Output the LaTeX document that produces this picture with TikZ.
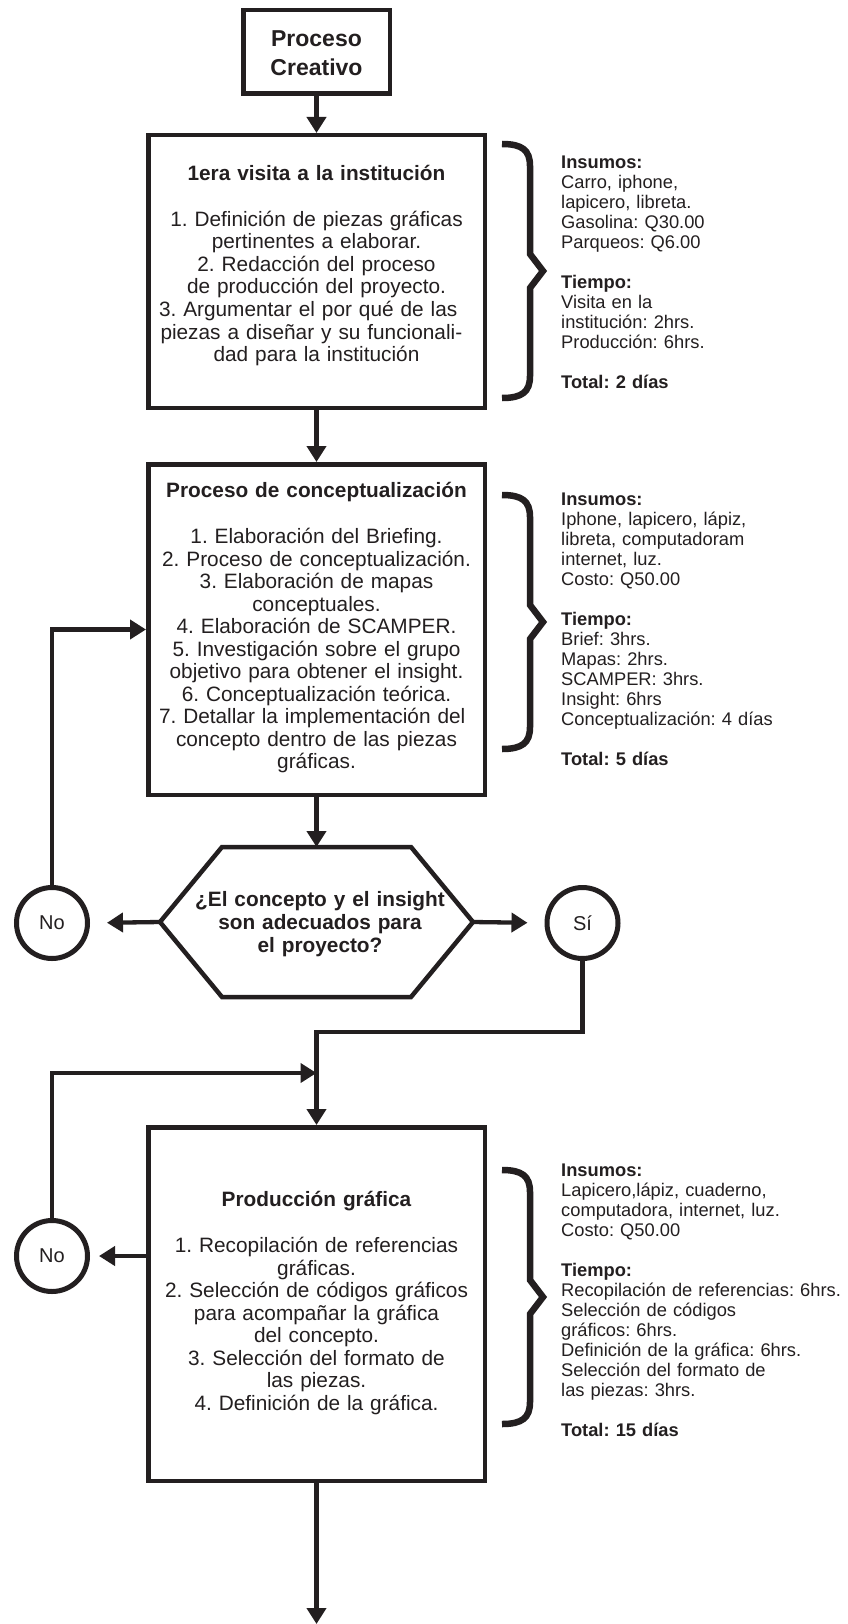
\documentclass[tikz,border=0pt]{standalone}
\usepackage{fontspec}
\setmainfont{Liberation Sans}
\usetikzlibrary{arrows.meta,calc}
\definecolor{ink}{HTML}{231F20}
\frenchspacing
\newcommand\boxfont{\frenchspacing\fontsize{20.8pt}{22.5pt}\selectfont}
\newcommand\sidefont{\frenchspacing\fontsize{18.3pt}{20pt}\selectfont}
\newcommand\topfont{\fontsize{23pt}{29pt}\selectfont\bfseries}
\newcommand\hexfont{\fontsize{20.8pt}{23pt}\selectfont\bfseries}
\newcommand\circfont{\fontsize{20pt}{22pt}\selectfont}
\begin{document}
\begin{tikzpicture}[x=1pt,y=-1pt,
  box/.style={draw=ink,line width=4.5pt,inner sep=0pt},
  circ/.style={circle,draw=ink,line width=5pt,minimum size=71pt,inner sep=0pt,font=\circfont,text=ink},
  wire/.style={draw=ink,line width=4.3pt},
  conn/.style={wire,-{Triangle[length=16pt,width=19pt]}},
  boxtext/.style={text width=334pt,align=center,inner sep=0pt,anchor=base,font=\boxfont,text=ink},
  sidetext/.style={text width=287pt,align=left,inner sep=0pt,anchor=base west,font=\sidefont,text=ink},
  bracepic/.pic={\draw[ink,line width=6.5pt] (0,0) .. controls (20,0) and (28,6) .. (28,22) -- (28,110) -- (41,127) -- (28,144) -- (28,232) .. controls (28,248) and (20,254) .. (0,254);}
]
\fill[white] (0,0) rectangle (848,1624);
\useasboundingbox (0,0) rectangle (848,1624);

% boxes
\node[box,minimum width=146.5pt,minimum height=83.5pt] (top) at (316.5,52) {};
\node[box,minimum width=336.5pt,minimum height=272.5pt] (b1) at (316.5,271.5) {};
\node[box,minimum width=336.5pt,minimum height=330.5pt] (b2) at (316.5,629.5) {};
\node[box,minimum width=336.5pt,minimum height=353.5pt] (b3) at (316.5,1304) {};

% texts in boxes
\node[boxtext,font=\topfont,text width=146pt] (toptxt) at (316.5,47) {Proceso\\Creativo};
\node[boxtext] (t1) at (316.5,180.5) {\textbf{1era visita a la institución}\\[23.5pt]
1. Definición de piezas gráficas\\
pertinentes a elaborar.\\
2. Redacción del proceso\\
de producción del proyecto.\\
\makebox[315pt][s]{3. Argumentar el por qué de las}\\
\makebox[312pt][s]{piezas a diseñar y su funcionali-}\\
dad para la institución};
\node[boxtext] (t2) at (316.5,497.5) {\textbf{Proceso de conceptualización}\\[23.5pt]
1. Elaboración del Briefing.\\
2. Proceso de conceptualización.\\
3. Elaboración de mapas\\
conceptuales.\\
4. Elaboración de SCAMPER.\\
5. Investigación sobre el grupo\\
objetivo para obtener el insight.\\
6. Conceptualización teórica.\\
\makebox[315pt][s]{7. Detallar la implementación del}\\
concepto dentro de las piezas\\
gráficas.};
\node[boxtext] (t3) at (316.5,1206.5) {\textbf{Producción gráfica}\\[23.5pt]
1. Recopilación de referencias\\
gráficas.\\
2. Selección de códigos gráficos\\
para acompañar la gráfica\\
del concepto.\\
3. Selección del formato de\\
las piezas.\\
4. Definición de la gráfica.};

% hexagon
\node[minimum width=313pt,minimum height=150pt,inner sep=0pt,outer sep=0pt] (hex) at (316.5,922) {};
\draw[ink,line width=4.5pt] (hex.west) -- ($(hex.north west)+(62,0)$) -- ($(hex.north east)+(-62,0)$) -- (hex.east) -- ($(hex.south east)+(-62,0)$) -- ($(hex.south west)+(62,0)$) -- cycle;
\node[boxtext,font=\hexfont,text width=300pt] (hexq) at (320,906.5) {¿El concepto y el insight\\son adecuados para\\el proyecto?};

% circles
\node[circ] (noA) at (52,923) {No};
\node[circ] (si) at (582.5,923) {Sí};
\node[circ] (noB) at (52,1256) {No};

% side texts
\node[sidetext] (s1) at (561,168.5) {\textbf{Insumos:}\\
Carro, iphone,\\
lapicero, libreta.\\
Gasolina: Q30.00\\
Parqueos: Q6.00\\[20pt]
\textbf{Tiempo:}\\
Visita en la\\
institución: 2hrs.\\
Producción: 6hrs.\\[20pt]
\textbf{Total: 2 días}};
\node[sidetext] (s2) at (561,505.5) {\textbf{Insumos:}\\
Iphone, lapicero, lápiz,\\
libreta, computadoram\\
internet, luz.\\
Costo: Q50.00\\[20pt]
\textbf{Tiempo:}\\
Brief: 3hrs.\\
Mapas: 2hrs.\\
SCAMPER: 3hrs.\\
Insight: 6hrs\\
Conceptualización: 4 días\\[20pt]
\textbf{Total: 5 días}};
\node[sidetext] (s3) at (561,1176.5) {\textbf{Insumos:}\\
Lapicero,lápiz, cuaderno,\\
computadora, internet, luz.\\
Costo: Q50.00\\[20pt]
\textbf{Tiempo:}\\
Recopilación de referencias: 6hrs.\\
Selección de códigos\\
gráficos: 6hrs.\\
Definición de la gráfica: 6hrs.\\
Selección del formato de\\
las piezas: 3hrs.\\[20pt]
\textbf{Total: 15 días}};

% braces
\pic at (502,144) {bracepic};
\pic at (502,495) {bracepic};
\pic at (502,1170) {bracepic};

% connectors
\coordinate (jn) at (316.5,1073);
\coordinate (bottom) at (316.5,1624);
\draw[conn] (top.south) -- (b1.north);
\draw[conn] (b1.south) -- (b2.north);
\draw[conn] (b2.south) -- (hex.north);
\draw[conn,shorten >=17pt] (hex.west) -- (noA.east);
\draw[conn,shorten >=17pt] (hex.east) -- (si.west);
\draw[conn] (noA.north) |- (b2.west);
\draw[conn] (si.south) -- ++(0,71) -| (b3.north);
\draw[conn] (noB.north) |- (jn);
\draw[conn,shorten >=9pt] (b3.west |- noB.east) -- (noB.east);
\draw[conn] (b3.south) -- (bottom);
\end{tikzpicture}
\end{document}
